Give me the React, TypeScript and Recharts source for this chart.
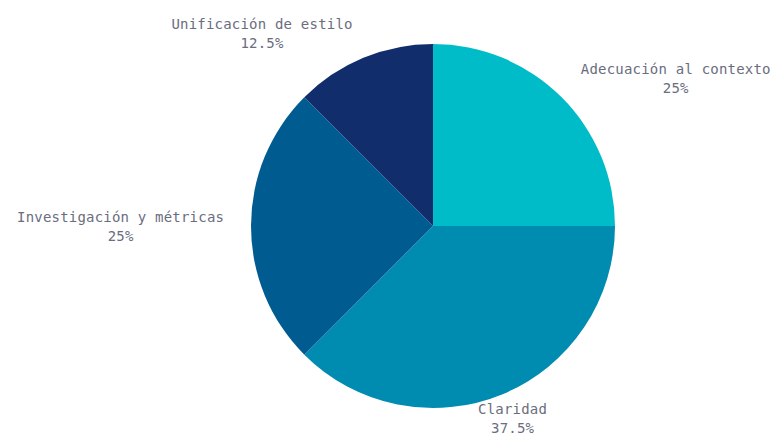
import { PieChart, Pie, Cell } from 'recharts'

const categories = ['Adecuación al contexto', 'Claridad', 'Investigación y métricas', 'Unificación de estilo']
const shares = [25, 37.5, 25, 12.5]
const COLORS = ['#00bcc8', '#008bb1', '#005b91', '#112d6b']

const data = categories.map((name, i) => ({ name, value: shares[i] }))

const RAD = Math.PI / 180
const LABEL_R = 208

// two-line label: name on top, percent below, block pushed away from the pie
function renderLabel(props: any) {
  const { cx, cy, midAngle, name, value } = props
  const cos = Math.cos(-midAngle * RAD)
  const sin = Math.sin(-midAngle * RAD)
  const x = cx + LABEL_R * cos
  const y = cy + LABEL_R * sin
  const w = name.length * 8.7
  let shift = cos >= 0 ? w / 2 : -w / 2
  if (sin > 0 && Math.abs(cos) < 0.5) shift = 0
  const tx = x + shift
  return (
    <g>
      <text x={tx} y={y - 9.5} textAnchor="middle" dominantBaseline="central"
        fill="#6a6d7e" fontSize={14} fontFamily="'DejaVu Sans Mono', monospace" letterSpacing={0.2}>
        {name}
      </text>
      <text x={tx} y={y + 9.5} textAnchor="middle" dominantBaseline="central"
        fill="#6a6d7e" fontSize={14} fontFamily="'DejaVu Sans Mono', monospace" letterSpacing={0.2}>
        {value}%
      </text>
    </g>
  )
}

export default function App() {
  return (
    <div style={{ position: 'absolute', left: 0, top: 0, width: 776, height: 435, background: '#fff' }}>
      <PieChart width={776} height={435} margin={{ top: 0, right: 0, bottom: 0, left: 0 }}>
        <Pie
          data={data}
          dataKey="value"
          nameKey="name"
          cx={433}
          cy={226}
          outerRadius={182}
          startAngle={90}
          endAngle={-270}
          stroke="none"
          label={renderLabel}
          labelLine={false}
          isAnimationActive={false}
        >
          {data.map((d, i) => (
            <Cell key={d.name} fill={COLORS[i]} />
          ))}
        </Pie>
      </PieChart>
    </div>
  )
}
